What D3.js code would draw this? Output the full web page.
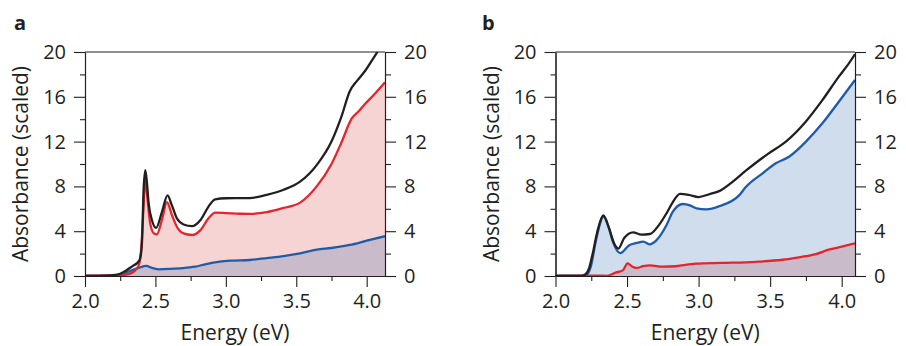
<!DOCTYPE html>
<html><head><meta charset="utf-8">
<script src="https://cdn.jsdelivr.net/npm/d3@7"></script>
<style>
html,body{margin:0;padding:0;background:#fff;}
svg{display:block;font-family:"Open Sans",sans-serif;}
</style></head>
<body><svg id="chart" width="906" height="346"></svg>
<script>
// ---------- data ----------
const yMajorTicks = [0, 4, 8, 12, 16, 20];
const yMinorTicks = [2, 6, 10, 14, 18];
const xMajorTicks = [2.0, 2.5, 3.0, 3.5, 4.0];
const xMinorTicks = [2.25, 2.75, 3.25, 3.75];
const panelLabels = ["a", "b"];
const xAxisTitle = "Energy (eV)";
const yAxisTitle = "Absorbance (scaled)";

// Panel a
const aBlackE = [2.00,2.10,2.20,2.25,2.30,2.34,2.37,2.39,2.404,2.416,2.428,2.44,2.451,2.475,2.505,2.546,2.586,2.617,2.652,2.70,2.76,2.82,2.877,2.924,3.00,3.10,3.17,3.29,3.41,3.527,3.645,3.75,3.82,3.88,3.93,3.988,4.04,4.08,4.13];
const aBlackA = [0,0.02,0.08,0.2,0.55,0.9,1.15,1.5,2.9,7.7,9.45,8.3,6.6,5.0,4.3,5.7,7.2,6.3,5.15,4.6,4.45,5.0,6.2,6.85,6.94,6.95,6.96,7.25,7.7,8.42,9.9,12.0,14.2,16.5,17.4,18.3,19.3,20.1,21.3];
const aRedE = [2.00,2.05,2.20,2.26,2.30,2.345,2.38,2.40,2.416,2.428,2.44,2.463,2.49,2.51,2.546,2.582,2.617,2.652,2.70,2.76,2.82,2.877,2.924,3.00,3.10,3.17,3.29,3.41,3.527,3.645,3.75,3.82,3.893,3.95,3.988,4.06,4.13];
const aRedA = [0,0.03,0.05,0.08,0.15,0.38,0.9,2.6,6.2,8.9,7.4,4.7,3.8,3.72,5.0,6.6,5.45,4.4,3.8,3.66,4.1,5.15,5.65,5.62,5.56,5.55,5.7,6.08,6.55,8.0,10.0,11.9,14.05,14.8,15.35,16.3,17.3];
const aBlueE = [2.00,2.25,2.30,2.32,2.38,2.435,2.475,2.52,2.60,2.676,2.782,2.86,2.91,3.03,3.17,3.29,3.41,3.527,3.645,3.75,3.88,4.00,4.13];
const aBlueA = [0,0,0.35,0.45,0.72,0.9,0.72,0.6,0.63,0.69,0.83,1.07,1.19,1.37,1.43,1.6,1.78,2.02,2.35,2.5,2.77,3.15,3.55];

// Panel b
const bBlackE = [2.00,2.18,2.21,2.235,2.26,2.295,2.334,2.376,2.41,2.44,2.48,2.543,2.60,2.66,2.72,2.776,2.82,2.87,2.93,3.00,3.074,3.148,3.237,3.33,3.41,3.49,3.61,3.75,3.865,3.98,4.04,4.093];
const bBlackA = [0,0.02,0.15,0.7,2.0,4.1,5.4,4.2,2.9,2.45,3.4,3.9,3.7,3.75,4.5,5.6,6.6,7.33,7.25,7.05,7.3,7.6,8.4,9.4,10.2,10.95,12.0,13.8,15.7,17.8,18.8,19.8];
const bBlueE = [2.00,2.20,2.225,2.248,2.283,2.336,2.37,2.40,2.452,2.515,2.567,2.613,2.66,2.706,2.776,2.82,2.89,2.94,2.985,3.055,3.148,3.283,3.33,3.447,3.54,3.632,3.75,3.865,3.98,4.093];
const bBlueA = [0,0.02,0.2,0.9,3.2,5.3,4.4,3.1,2.05,2.75,2.95,3.07,2.83,3.2,4.55,5.74,6.43,6.3,6.04,5.95,6.25,7.2,7.95,9.17,10.06,10.65,12.0,13.63,15.56,17.5];
const bRedE = [2.00,2.05,2.30,2.36,2.42,2.47,2.504,2.535,2.567,2.613,2.66,2.75,2.84,2.98,3.167,3.40,3.586,3.70,3.82,3.91,4.00,4.093];
const bRedA = [0,0.03,0.04,0.02,0.3,0.5,1.13,0.85,0.72,0.88,0.95,0.83,0.87,1.1,1.17,1.27,1.45,1.67,1.96,2.35,2.62,2.92];

// ---------- styles ----------
const C = {black:"#231f20", red:"#e1262d", blue:"#1f5ba8", pink:"#f6d4d4", mauve:"#c9bbca", lightblue:"#d0ddec"};

const svg = d3.select("#chart");
const zip = (E, A) => E.map((e, i) => ({e, a: A[i]}));

const panels = [
  {label: panelLabels[0], x0: 85, x1: 385, xmax: 4.13, labelX: 14,
   fills: [{d: zip(aRedE, aRedA), c: C.pink}, {d: zip(aBlueE, aBlueA), c: C.mauve}],
   lines: [{d: zip(aBlueE, aBlueA), c: C.blue}, {d: zip(aRedE, aRedA), c: C.red}, {d: zip(aBlackE, aBlackA), c: C.black}]},
  {label: panelLabels[1], x0: 555.5, x1: 855, xmax: 4.093, labelX: 482,
   fills: [{d: zip(bBlueE, bBlueA), c: C.lightblue}, {d: zip(bRedE, bRedA), c: C.mauve}],
   lines: [{d: zip(bRedE, bRedA), c: C.red}, {d: zip(bBlueE, bBlueA), c: C.blue}, {d: zip(bBlackE, bBlackA), c: C.black}]}
];

const yTop = 52, yBot = 276;
const fontSize = 20;

panels.forEach((p, i) => {
  const x = d3.scaleLinear().domain([2, p.xmax]).range([p.x0, p.x1]);
  const y = d3.scaleLinear().domain([0, 20]).range([yBot, yTop]);
  const g = svg.append("g");
  const clipId = "clip" + i;
  svg.append("clipPath").attr("id", clipId).append("rect")
    .attr("x", p.x0).attr("y", yTop).attr("width", p.x1 - p.x0).attr("height", yBot - yTop);

  const area = d3.area().x(d => x(d.e)).y0(y(0)).y1(d => y(d.a)).curve(d3.curveMonotoneX);
  const line = d3.line().x(d => x(d.e)).y(d => y(d.a)).curve(d3.curveMonotoneX);

  const plot = g.append("g").attr("clip-path", `url(#${clipId})`);
  p.fills.forEach(f => plot.append("path").attr("d", area(f.d)).attr("fill", f.c));
  p.lines.forEach(l => plot.append("path").attr("d", line(l.d)).attr("fill", "none")
    .attr("stroke", l.c).attr("stroke-width", 2.3).attr("stroke-linejoin", "round"));

  const styleAxis = sel => {
    sel.selectAll("path.domain").attr("stroke", C.black).attr("stroke-width", 1.1);
    sel.selectAll(".tick line").attr("stroke", C.black).attr("stroke-width", 1.1);
    sel.selectAll(".tick text").attr("fill", C.black).style("font-size", fontSize + "px")
      .style("font-family", "'Open Sans', sans-serif");
  };

  // left axis
  g.append("g").attr("transform", `translate(${p.x0},0)`)
    .call(d3.axisLeft(y).tickValues(yMajorTicks).tickSize(11).tickPadding(8).tickSizeOuter(0))
    .call(styleAxis);
  g.append("g").attr("transform", `translate(${p.x0},0)`)
    .call(d3.axisLeft(y).tickValues(yMinorTicks).tickSize(5).tickFormat("").tickSizeOuter(0))
    .call(styleAxis);
  // right axis
  g.append("g").attr("transform", `translate(${p.x1},0)`)
    .call(d3.axisRight(y).tickValues(yMajorTicks).tickSize(11).tickPadding(8).tickSizeOuter(0))
    .call(styleAxis);
  g.append("g").attr("transform", `translate(${p.x1},0)`)
    .call(d3.axisRight(y).tickValues(yMinorTicks).tickSize(6).tickFormat("").tickSizeOuter(0))
    .call(styleAxis);
  // bottom axis
  g.append("g").attr("transform", `translate(0,${yBot})`)
    .call(d3.axisBottom(x).tickValues(xMajorTicks).tickSize(11).tickPadding(7).tickFormat(d3.format(".1f")).tickSizeOuter(0))
    .call(styleAxis);
  g.append("g").attr("transform", `translate(0,${yBot})`)
    .call(d3.axisBottom(x).tickValues(xMinorTicks).tickSize(5).tickFormat("").tickSizeOuter(0))
    .call(styleAxis);
  // top frame line
  g.append("line").attr("x1", p.x0).attr("x2", p.x1).attr("y1", yTop).attr("y2", yTop)
    .attr("stroke", C.black).attr("stroke-width", 1.1);

  // titles
  g.append("text").attr("x", (p.x0 + p.x1) / 2).attr("y", 340).attr("text-anchor", "middle")
    .attr("fill", C.black).style("font-size", "21px").text(xAxisTitle);
  g.append("text").attr("transform", `translate(${p.x0 - 57},${(yTop + yBot) / 2}) rotate(-90)`)
    .attr("text-anchor", "middle").attr("fill", C.black).style("font-size", "21px").text(yAxisTitle);
  g.append("text").attr("x", p.labelX).attr("y", 30).attr("fill", C.black)
    .style("font-size", "20px").style("font-weight", "bold").text(p.label);
});
</script>
</body></html>
